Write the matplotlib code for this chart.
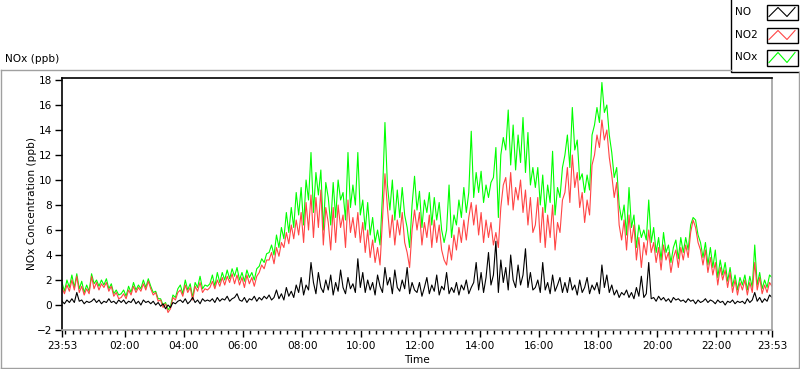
import numpy as np
import matplotlib
matplotlib.use("Agg")
import matplotlib.pyplot as plt
from matplotlib.patches import Rectangle

plt.rcParams['font.family'] = ['DejaVu Sans']
plt.rcParams['font.size'] = 7.6

# readings every 5 minutes starting at 23:53 (one row = one hour)
no2 = [
    1.4, 0.9, 1.6, 1.1, 2.0, 1.2, 2.3, 1.0, 1.5, 0.8, 1.3, 0.9,
    2.3, 1.3, 1.8, 1.2, 1.7, 1.4, 1.8, 1.1, 1.5, 0.7, 1.0, 0.5,
    0.6, 0.9, 0.5, 1.2, 0.8, 1.5, 1.0, 1.4, 1.1, 1.7, 1.2, 1.9,
    1.3, 0.8, 1.0, 0.3, 0.4, -0.2, 0.1, -0.6, -0.3, 0.6, 0.4, 1.0,
    1.2, 0.7, 1.6, 1.0, 1.4, 0.4, 1.5, 1.1, 1.8, 1.0, 1.3, 1.2,
    1.4, 1.9, 1.3, 2.0, 1.5, 2.2, 1.6, 2.3, 1.8, 2.5, 1.7, 2.4,
    1.6, 2.2, 1.4, 2.4, 1.7, 2.2, 1.5, 2.3, 2.6, 3.2, 2.9, 3.6,
    3.6, 4.2, 3.3, 4.6, 3.9, 5.0, 4.6, 5.8, 4.9, 6.4, 5.3, 6.8,
    5.6, 7.4, 5.0, 8.2, 6.0, 8.8, 5.4, 8.6, 6.2, 9.2, 4.8, 7.8,
    6.6, 4.4, 7.8, 5.0, 8.0, 6.2, 7.2, 4.6, 8.4, 5.8, 7.0, 5.4,
    7.4, 5.0, 6.6, 4.2, 6.0, 3.8, 5.2, 3.4, 4.6, 3.2, 6.8, 10.5,
    7.8, 5.4, 7.2, 4.8, 6.8, 5.6, 7.4, 5.0, 4.2, 3.0, 6.0, 7.6,
    6.0, 7.4, 4.8, 6.6, 5.4, 7.2, 4.6, 6.8, 5.0, 6.4, 4.4, 3.6,
    3.2, 4.8, 3.6, 5.6, 4.4, 6.2, 5.0, 6.8, 5.2, 7.0, 8.2, 6.4,
    8.0, 5.6, 7.4, 5.0, 6.8, 5.4, 6.6, 4.8, 5.8, 4.6, 7.8, 9.6,
    10.2, 8.0, 10.6, 7.6, 9.4, 8.4, 10.0, 7.4, 9.2, 6.4, 8.6, 5.8,
    6.4, 8.6, 5.0, 7.8, 4.6, 7.2, 5.4, 8.0, 4.4, 6.6, 5.8, 8.4,
    9.0, 11.0, 8.2, 12.0, 9.4, 10.6, 7.8, 9.0, 6.6, 8.4, 7.2, 11.2,
    12.0, 13.6, 12.6, 14.8, 13.2, 14.0, 11.8, 10.4, 8.6, 9.8, 6.4, 5.2,
    6.8, 4.4, 7.2, 5.0, 6.4, 3.6, 5.4, 3.0, 5.0, 4.0, 6.0, 4.2,
    5.0, 3.4, 4.6, 2.8, 4.8, 3.6, 4.2, 2.6, 3.8, 4.4, 3.0, 4.6,
    3.6, 4.8, 3.8, 5.8, 6.8, 6.2, 5.0, 4.4, 3.2, 4.4, 2.6, 3.8,
    2.4, 3.4, 1.6, 3.0, 2.0, 2.8, 1.4, 2.6, 1.0, 2.0, 0.8, 1.8,
    1.2, 2.0, 0.8, 1.8, 1.0, 3.4, 1.2, 2.2, 0.9, 1.6, 1.0, 1.8, 1.5,
]

nox = [
    1.8, 1.1, 2.0, 1.4, 2.4, 1.4, 2.5, 1.3, 1.9, 1.0, 1.6, 1.1,
    2.5, 1.7, 2.0, 1.5, 2.0, 1.6, 2.1, 1.3, 1.7, 0.9, 1.2, 0.8,
    0.9, 1.2, 0.7, 1.5, 1.0, 1.8, 1.2, 1.6, 1.3, 2.0, 1.4, 2.1,
    1.5, 1.0, 1.1, 0.5, 0.5, 0.0, 0.2, -0.4, -0.1, 0.8, 0.6, 1.3,
    1.6, 0.9, 2.0, 1.2, 1.7, 0.6, 1.8, 1.4, 2.3, 1.3, 1.6, 1.5,
    1.7, 2.4, 1.5, 2.6, 1.8, 2.6, 2.0, 2.8, 2.1, 2.9, 2.3, 3.0,
    2.0, 2.6, 1.9, 2.8, 2.2, 2.6, 2.0, 2.9, 3.1, 3.7, 3.4, 4.1,
    4.2, 4.8, 4.0, 5.6, 4.6, 6.2, 5.3, 7.4, 5.8, 7.8, 6.2, 9.0,
    7.2, 9.4, 6.4, 10.0, 8.4, 12.2, 7.4, 10.6, 8.8, 10.8, 6.0, 9.8,
    8.6, 6.4, 9.8, 7.0, 10.0, 8.4, 9.0, 6.8, 12.2, 7.8, 9.6, 8.0,
    12.2, 7.2, 8.4, 6.0, 8.2, 5.6, 7.0, 5.0, 6.0, 4.8, 8.8, 14.6,
    9.6, 7.6, 10.0, 6.8, 9.2, 7.0, 9.4, 7.2, 6.2, 4.6, 8.0, 10.3,
    7.6, 9.1, 6.2, 8.4, 7.4, 9.0, 6.4, 8.6, 6.8, 8.2, 6.0, 5.0,
    6.0, 9.6, 5.4, 7.2, 6.4, 8.4, 7.0, 9.4, 7.4, 9.0, 13.9, 8.6,
    10.6, 9.0, 10.7, 8.2, 9.6, 8.6, 9.8, 10.2, 12.6, 7.0, 12.0, 13.4,
    12.4, 15.6, 11.2, 14.4, 10.8, 13.6, 11.4, 15.0, 10.6, 13.8, 9.6, 11.0,
    9.4, 11.0, 8.0, 10.4, 7.4, 9.6, 8.2, 12.3, 7.2, 9.4, 8.6, 11.0,
    12.0, 13.6, 11.0, 15.8, 12.4, 13.2, 10.0, 10.5, 9.0, 10.4, 9.2, 13.6,
    14.4, 15.8, 14.6, 17.8, 15.4, 16.0, 13.6, 12.2, 10.2, 11.0, 8.0, 6.8,
    8.0, 5.6, 9.4, 6.2, 7.2, 4.6, 6.4, 5.4, 6.0, 5.2, 8.4, 5.0,
    6.2, 4.2, 5.4, 3.6, 5.8, 4.2, 4.8, 3.4, 4.6, 5.2, 3.7, 5.4,
    4.2, 5.4, 4.4, 6.4, 7.0, 6.8, 5.6, 5.0, 3.8, 5.0, 3.2, 4.6,
    3.0, 4.4, 2.2, 3.6, 2.4, 3.4, 1.9, 3.0, 1.5, 2.4, 1.2, 2.2,
    1.6, 2.4, 1.2, 2.3, 1.4, 4.8, 1.6, 2.6, 1.3, 2.0, 1.4, 2.4, 2.2,
]

no = [
    0.3, 0.1, 0.4, 0.2, 0.5, 0.2, 1.0, 0.3, 0.4, 0.1, 0.3, 0.2,
    0.3, 0.5, 0.2, 0.4, 0.1, 0.3, 0.2, 0.5, 0.2, 0.3, 0.1, 0.4,
    0.2, 0.4, 0.1, 0.3, 0.2, 0.5, 0.1, 0.3, 0.0, 0.4, 0.2, 0.3,
    0.1, 0.3, 0.0, 0.2, -0.1, 0.1, -0.3, 0.0, -0.2, 0.2, 0.1, 0.3,
    0.4, 0.2, 0.5, 0.1, 0.3, 0.6, 0.2, 0.4, 0.1, 0.5, 0.3, 0.4,
    0.3, 0.5, 0.2, 0.6, 0.3, 0.5, 0.4, 0.7, 0.3, 0.5, 0.6, 0.9,
    0.4, 0.3, 0.6, 0.2, 0.5, 0.4, 0.7, 0.3, 0.6, 0.4, 0.7, 0.5,
    0.8, 0.4, 0.6, 1.2, 0.5, 0.9, 0.4, 1.4, 0.7, 1.1, 0.6, 1.6,
    1.0, 2.2, 0.8, 1.6, 1.2, 3.4, 1.8, 0.9, 2.6, 1.4, 1.0, 2.0,
    1.2, 2.4, 0.8, 1.8, 1.1, 2.8, 1.4, 0.9, 2.2, 1.3, 1.7, 1.0,
    3.7, 1.4, 2.6, 1.0, 2.0, 1.2, 1.8, 0.8, 2.4, 1.5, 1.0, 3.0,
    1.6, 2.2, 0.9, 2.8, 1.4, 1.1, 2.0, 1.3, 3.0, 0.9, 1.8, 1.2,
    1.0, 1.8, 0.7, 1.4, 2.2, 0.9, 1.6, 1.1, 2.4, 0.8, 1.5, 1.2,
    2.6, 0.9, 1.4, 1.0, 1.8, 0.8, 1.6, 1.2, 2.0, 0.9, 1.4, 1.8,
    3.4, 1.2, 2.6, 1.0, 2.2, 4.2, 1.6, 2.4, 5.1, 1.0, 3.6, 1.8,
    3.0, 1.2, 4.0, 2.0, 1.4, 3.2, 1.6, 2.4, 4.5, 1.4, 2.6, 1.2,
    1.4, 2.0, 1.0, 3.4, 1.2, 1.8, 0.9, 2.4, 1.1, 1.6, 2.2, 1.0,
    1.8, 1.0, 2.2, 1.2, 1.6, 0.8, 2.0, 1.0, 1.4, 2.2, 0.9, 1.6,
    1.2, 1.8, 0.9, 3.2, 1.4, 2.4, 1.0, 1.6, 0.8, 1.2, 0.6, 1.0,
    0.8, 1.2, 0.6, 1.0, 0.5, 1.4, 0.7, 2.3, 0.6, 0.9, 3.4, 0.5,
    0.6, 0.3, 0.7, 0.4, 0.6, 0.3, 0.5, 0.2, 0.6, 0.4, 0.5, 0.3,
    0.4, 0.2, 0.5, 0.3, 0.4, 0.1, 0.4, 0.2, 0.3, 0.5, 0.2, 0.4,
    0.3, 0.1, 0.4, 0.2, 0.3, 0.0, 0.3, 0.2, 0.4, 0.1, 0.3, 0.2,
    0.3, 0.1, 0.5, 0.2, 0.4, 1.0, 0.3, 0.6, 0.2, 0.5, 0.3, 0.8, 0.6,
]

minutes = np.arange(len(no2)) * 5  # minutes after 23:53

tick_minutes = [0, 127, 247, 367, 487, 607, 727, 847, 967, 1087, 1207, 1327, 1440]
tick_labels = ["23:53", "02:00", "04:00", "06:00", "08:00", "10:00", "12:00",
               "14:00", "16:00", "18:00", "20:00", "22:00", "23:53"]
minor_minutes = np.arange(7, 1441, 15)  # every quarter hour

C_NO, C_NO2, C_NOX = "black", "#ff4545", "#00ff00"
GRAY = "#a0a0a0"

fig = plt.figure(figsize=(8, 3.69), dpi=100)

# background layer in pixel units for the panel frame and legend
bg = fig.add_axes([0, 0, 1, 1])
bg.set_xlim(0, 800)
bg.set_ylim(369, 0)
bg.axis("off")
bg.plot([0.5, 730.5], [69.5, 69.5], color=GRAY, lw=1)
bg.plot([0.5, 0.5], [69.5, 368], color=GRAY, lw=1)
bg.plot([0.5, 799], [368, 368], color=GRAY, lw=1)
bg.plot([799, 799], [72, 368], color=GRAY, lw=1)
bg.text(5, 59, "NOx (ppb)", ha="left", va="center")

bg.add_patch(Rectangle((730.5, -2), 72, 74, fill=False, ec="black", lw=1))
for name, col, ytop, yh in [("NO", C_NO, 4.5, 15), ("NO2", C_NO2, 27.5, 15), ("NOx", C_NOX, 49.5, 16)]:
    bg.text(735, ytop + yh / 2, name, ha="left", va="center")
    bg.add_patch(Rectangle((766.5, ytop), 31, yh, fill=False, ec="black", lw=1))
    bg.plot([769, 778, 787, 795], [ytop + yh - 3, ytop + 3, ytop + yh - 3, ytop + 3],
            color=col, lw=0.8)

ax = fig.add_axes([62 / 800, 1 - 330 / 369, 710 / 800, 252 / 369])
ax.plot(minutes, nox, color=C_NOX, lw=0.8)
ax.plot(minutes, no2, color=C_NO2, lw=0.8)
ax.plot(minutes, no, color=C_NO, lw=0.8)

ax.set_xlim(0, 1440)
ax.set_ylim(-2, 18.16)
ax.set_yticks(np.arange(-2, 19, 2))
ax.set_xticks(tick_minutes)
ax.set_xticklabels(tick_labels)
ax.set_xticks(minor_minutes, minor=True)
ax.tick_params(axis="y", length=5, width=1, pad=2)
ax.tick_params(axis="x", which="major", length=5, width=1, pad=3)
ax.tick_params(axis="x", which="minor", length=3, width=1)

ax.spines["top"].set_color("black")
ax.spines["left"].set_color("black")
ax.spines["bottom"].set_color(GRAY)
ax.spines["right"].set_color(GRAY)
for s in ax.spines.values():
    s.set_linewidth(1.2)

ax.set_ylabel("NOx Concentration (ppb)", labelpad=0)
ax.set_xlabel("Time", labelpad=3)

fig.savefig("out.png", dpi=100)
